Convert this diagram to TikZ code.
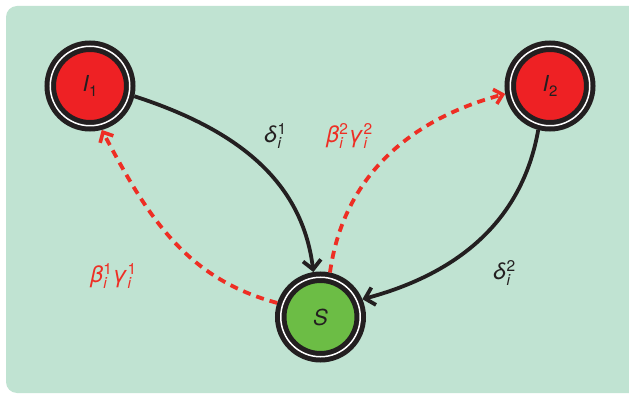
\documentclass[tikz,border=0pt]{standalone}
\usepackage{fontspec}
\setmainfont{TeX Gyre Heros}
\usetikzlibrary{arrows.meta}
\definecolor{bgmint}{HTML}{C0E3D2}
\definecolor{nodered}{HTML}{EE2124}
\definecolor{nodegreen}{HTML}{6CBD45}
\definecolor{inkblack}{HTML}{231F20}
\definecolor{labred}{HTML}{EE2E24}
\tikzset{
  state/.style={circle, inner sep=0pt, minimum size=79.5pt, draw=inkblack,
    line width=5pt, double=white, double distance=1.5pt, outer sep=5.75pt,
    font=\fontsize{22}{24}\selectfont\itshape, text=inkblack},
  solidedge/.style={draw=inkblack, line width=3.8pt,
    -{Straight Barb[length=9pt, width=18pt, line width=3.8pt]}},
  dashedge/.style={draw=labred, line width=3.8pt, dash pattern=on 8pt off 6pt,
    -{Straight Barb[length=8pt, width=15pt, line width=3.6pt]}},
  lab/.style={font=\fontsize{23}{25}\selectfont\itshape, inner sep=0pt}
}
\newcommand{\scrsz}{\fontsize{15.5}{17}\selectfont}
\newcommand{\symb}[3]{#1\kern0.5pt\rlap{\raisebox{8.5pt}{\scrsz\upshape #2}}\raisebox{-5.5pt}{\scrsz\itshape #3}\kern6.5pt}
\begin{document}
\begin{tikzpicture}[x=1pt, y=-1pt]
\useasboundingbox (0,0) rectangle (629,395);
\clip (0,0) rectangle (629,395);
\fill[bgmint, rounded corners=11pt] (6,6) rectangle (650,393);

\node[state, fill=nodered] (I1) at (90,86) {I\kern0.5pt\raisebox{-5pt}{\fontsize{15}{16}\selectfont\upshape 1}};
\node[state, fill=nodered] (I2) at (550,86) {I\kern0.5pt\raisebox{-5pt}{\fontsize{15}{16}\selectfont\upshape 2}};
\node[state, fill=nodegreen] (S) at (320.5,317) {S};

\draw[solidedge] (I1.-13) to[out=-18, in=97] (S.99);
\draw[solidedge] (I2.-105) to[out=-100, in=15] (S.23);
\draw[dashedge] (S.162) to[out=165, in=-62] (I1.-75);
\draw[dashedge] (S.78) to[out=82, in=195] (I2.190);

\node[lab, text=inkblack] (d1) at (276,136) {\symb{δ}{1}{i}};
\node[lab, text=labred] (b2) at (350,136) {\symb{β}{2}{i}\kern-1pt\symb{γ}{2}{i}};
\node[lab, text=labred] (b1) at (114,276) {\symb{β}{1}{i}\kern-1pt\symb{γ}{1}{i}};
\node[lab, text=inkblack] (d2) at (505,273) {\symb{δ}{2}{i}};
\end{tikzpicture}
\end{document}
